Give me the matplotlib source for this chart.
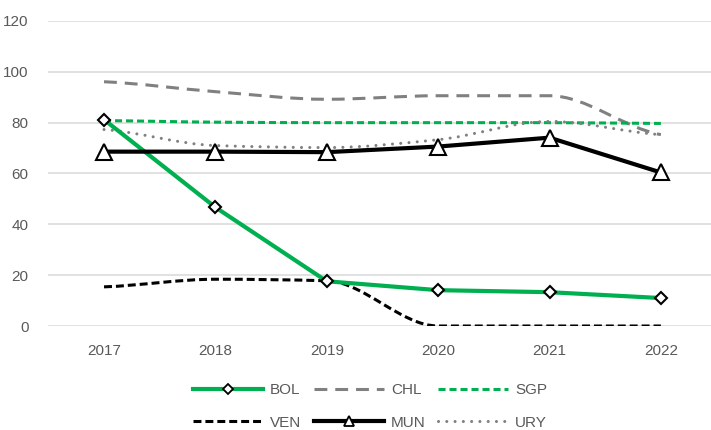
import numpy as np
import matplotlib
matplotlib.use("Agg")
import matplotlib.pyplot as plt
from matplotlib.path import Path
from matplotlib.patches import PathPatch
from matplotlib.lines import Line2D

plt.rcParams['font.family'] = ['Liberation Sans', 'DejaVu Sans']

years = ["2017", "2018", "2019", "2020", "2021", "2022"]
BOL = [81.2, 46.7, 17.6, 14.1, 13.3, 11.0]
CHL = [96.1, 92.2, 89.2, 90.6, 90.6, 75.3]
SGP = [80.8, 80.2, 80.0, 80.0, 80.0, 79.7]
VEN = [15.4, 18.4, 17.8, 0.0, 0.0, 0.0]
MUN = [68.6, 68.6, 68.4, 70.6, 74.1, 60.4]
URY = [77.3, 71.0, 70.2, 73.3, 80.5, 75.3]

GREEN = "#00B050"
GRAY = "#808080"
TXT = "#595959"

fig = plt.figure(figsize=(7.11, 4.30), dpi=100)
ax = fig.add_axes([48/711, (430-326)/430, (711-48)/711, 305/430])

x = np.arange(len(years))


def smooth_path(xs, ys):
    xs = np.asarray(xs, float)
    ys = np.asarray(ys, float)
    n = len(xs)
    d = np.diff(ys) / np.diff(xs)
    m = np.zeros(n)
    m[0] = d[0] / 2
    m[-1] = d[-1] / 2
    for i in range(1, n - 1):
        if d[i - 1] * d[i] > 0:
            m[i] = 2.0 / (1.0 / d[i - 1] + 1.0 / d[i])
        else:
            m[i] = 0.0
    verts = [(xs[0], ys[0])]
    codes = [Path.MOVETO]
    for i in range(n - 1):
        h = xs[i + 1] - xs[i]
        verts += [(xs[i] + h / 3, ys[i] + m[i] * h / 3),
                  (xs[i + 1] - h / 3, ys[i + 1] - m[i + 1] * h / 3),
                  (xs[i + 1], ys[i + 1])]
        codes += [Path.CURVE4] * 3
    return Path(verts, codes)


def add_smooth(ys, color, lw, dashes, cap='butt', z=2):
    patch = PathPatch(smooth_path(x, ys), fill=False, edgecolor=color,
                      linewidth=lw, linestyle=(0, dashes), zorder=z)
    patch.set_capstyle(cap)
    ax.add_patch(patch)


# BOL
ax.plot(x, BOL, color=GREEN, lw=3.0, zorder=3)
# CHL (smoothed, long dash)
add_smooth(CHL, GRAY, 2.2, (4.2, 2.6), z=2)
# SGP (smoothed, short dash)
add_smooth(SGP, GREEN, 2.2, (2.3, 1.3), z=2)
# VEN (smoothed, short dash black)
add_smooth(VEN, "black", 2.2, (2.6, 1.3), z=2)
# MUN
ax.plot(x, MUN, color="black", lw=3.0, zorder=3)
# URY (smoothed, dotted)
add_smooth(URY, GRAY, 2.2, (0.01, 2.7), cap='round', z=2.5)

# markers on top
ax.plot(x, BOL, linestyle='none', marker='D', markersize=6.5,
        markerfacecolor='white', markeredgecolor='black', markeredgewidth=1.5, zorder=5)
ax.plot(x, MUN, linestyle='none', marker='^', markersize=11,
        markerfacecolor='white', markeredgecolor='black', markeredgewidth=1.5, zorder=5)

ax.set_xlim(-0.503, 5.45)
ax.set_ylim(0, 120)
ax.set_yticks(np.arange(0, 121, 20))
ax.set_xticks(x)
ax.set_xticklabels(years)
ax.tick_params(axis='both', length=0, labelsize=11, colors=TXT)
ax.tick_params(axis='y', pad=14)
ax.tick_params(axis='x', pad=13)
ax.grid(axis='y', color="#D9D9D9", lw=1.1, zorder=0)
ax.set_axisbelow(True)
for s in ax.spines.values():
    s.set_visible(False)

# legend proxies
h_bol = Line2D([], [], color=GREEN, lw=3.0, marker='D', markersize=5,
               markerfacecolor='white', markeredgecolor='black', markeredgewidth=1.3)
h_chl = Line2D([], [], color=GRAY, lw=2.2, linestyle=(0, (4.2, 2.6)))
h_sgp = Line2D([], [], color=GREEN, lw=2.2, linestyle=(0, (2.3, 1.3)))
h_ven = Line2D([], [], color='black', lw=2.2, linestyle=(0, (2.6, 1.3)))
h_mun = Line2D([], [], color='black', lw=3.0, marker='^', markersize=7,
               markerfacecolor='white', markeredgecolor='black', markeredgewidth=1.3)
h_ury = Line2D([], [], color=GRAY, lw=2.2, linestyle=(0, (0.01, 2.7)),
               dash_capstyle='round')

handles = [h_bol, h_ven, h_chl, h_mun, h_sgp, h_ury]
labels = ["BOL", "VEN", "CHL", "MUN", "SGP", "URY"]
leg = fig.legend(handles, labels, ncol=3, loc='center',
                 bbox_to_anchor=(370/711, 1 - 406.5/430), frameon=False,
                 fontsize=11, handlelength=4.6, handletextpad=0.45,
                 columnspacing=0.8, labelspacing=1.2, borderpad=0)
for t in leg.get_texts():
    t.set_color(TXT)

fig.savefig("out.png", dpi=100)
